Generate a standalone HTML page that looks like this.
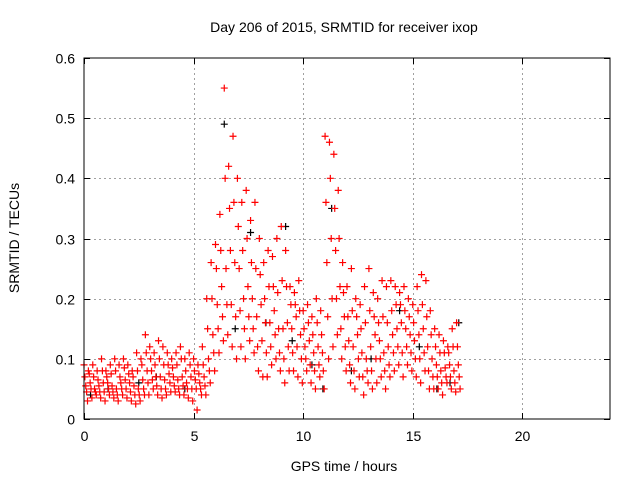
<!DOCTYPE html>
<html><head><meta charset="utf-8"><style>
html,body{margin:0;padding:0;background:#fff;}
svg{display:block;font-family:"Liberation Sans",sans-serif;}
</style></head><body>
<svg id="chart" width="640" height="480" viewBox="0 0 640 480" xmlns="http://www.w3.org/2000/svg">
<rect width="640" height="480" fill="#fff"/>
<text x="344" y="32" font-size="14" text-anchor="middle" fill="#000">Day 206 of 2015, SRMTID for receiver ixop</text>
<text transform="translate(19,238) rotate(-90)" font-size="14" text-anchor="middle" fill="#000">SRMTID / TECUs</text>
<text x="344" y="471" font-size="14" text-anchor="middle" fill="#000">GPS time / hours</text>
<g id="grid"></g>
<g id="ticks"></g>
<g id="marks"></g>
<rect x="84" y="58" width="526" height="361" fill="none" stroke="#000" stroke-width="1"/>
</svg>
<script>
const xTicks = [0, 5, 10, 15, 20];
const yTicks = [0, 0.1, 0.2, 0.3, 0.4, 0.5, 0.6];
const yTickLabels = ["0", "0.1", "0.2", "0.3", "0.4", "0.5", "0.6"];
const hours = [0,0.2,0.4,0.6,0.8,1.0,1.2,1.4,1.6,1.8,2.0,2.2,2.4,2.6,2.8,3.0,3.2,3.4,3.6,3.8,4.0,4.2,4.4,4.6,4.8,5.0,5.2,5.4,5.6,5.8,6.0,6.2,6.4,6.6,6.8,7.0,7.2,7.4,7.6,7.8,8.0,8.2,8.4,8.6,8.8,9.0,9.2,9.4,9.6,9.8,10.0,10.2,10.4,10.6,10.8,11.0,11.2,11.4,11.6,11.8,12.0,12.2,12.4,12.6,12.8,13.0,13.2,13.4,13.6,13.8,14.0,14.2,14.4,14.6,14.8,15.0,15.2,15.4,15.6,15.8,16.0,16.2,16.4,16.6,16.8,17.0];
const hiVals = [.09,.08,.09,.08,.10, .08,.09,.10,.09,.10, .09,.08,.11,.10,.14, .12,.11,.13,.12,.11, .10,.11,.12,.10,.11, .10,.09,.12,.20,.26, .29,.34,.55,.42,.47, .40,.36,.38,.33,.36, .30,.26,.28,.27,.30, .32,.28,.22,.21,.23, .18,.19,.17,.20,.18, .47,.46,.44,.38,.26, .22,.25,.20,.19,.22, .25,.21,.20,.23,.22, .23,.22,.21,.22,.20, .19,.22,.24,.23,.18, .15,.14,.13,.12,.15, .16];
const upVals = [.07,.075,.07,.065,.08, .07,.075,.08,.07,.085, .075,.07,.08,.09,.11, .10,.09,.10,.09,.09, .085,.09,.10,.08,.09, .08,.075,.09,.15,.20, .25,.28,.40,.35,.36, .32,.28,.30,.26,.25, .24,.20,.22,.22,.21, .23,.22,.19,.19,.18, .15,.16,.14,.16,.14, .36,.40,.35,.30,.21, .17,.18,.17,.15,.16, .18,.17,.16,.17,.16, .18,.19,.19,.18,.17, .16,.18,.19,.17,.14, .12,.11,.11,.11,.12, .12];
const midVals = [.055,.06,.05,.055,.06, .06,.055,.05,.06,.065, .06,.055,.05,.065,.08, .08,.07,.07,.065,.075, .07,.065,.07,.06,.07, .065,.06,.07,.10,.14, .19,.22,.25,.28,.26, .25,.20,.22,.20,.17, .19,.16,.16,.18,.15, .15,.16,.15,.17,.14, .12,.13,.11,.12,.11, .26,.30,.28,.22,.17, .13,.12,.14,.11,.10, .12,.14,.13,.11,.12, .14,.15,.16,.15,.14, .13,.14,.15,.12,.10, .09,.08,.085,.09,.08, .09];
const dnVals = [.045,.05,.045,.045,.045, .05,.045,.04,.05,.05, .045,.04,.04,.05,.06, .065,.055,.05,.05,.06, .055,.05,.055,.05,.05, .05,.05,.055,.08,.11, .15,.17,.19,.19,.17, .18,.15,.17,.15,.12, .13,.11,.12,.14,.11, .10,.12,.11,.12,.10, .10,.09,.08,.09,.08, .17,.20,.20,.15,.12, .09,.08,.10,.07,.08, .08,.10,.10,.08,.09, .11,.12,.11,.12,.11, .10,.10,.11,.08,.07, .07,.06,.07,.07,.06, .07];
const loVals = [.03,.035,.04,.035,.03, .04,.035,.03,.04,.035, .03,.025,.03,.04,.04, .05,.04,.035,.04,.045, .045,.04,.04,.035,.03, .015,.04,.04,.06,.08, .11,.13,.14,.12,.10, .12,.10,.13,.11,.08, .07,.07,.09,.10,.08, .06,.08,.08,.07,.06, .08,.06,.05,.07,.05, .10,.12,.14,.10,.08, .06,.05,.07,.04,.06, .05,.06,.07,.05,.07, .08,.09,.07,.09,.08, .07,.06,.08,.05,.05, .05,.04,.06,.05,.045, .05];
const blackHours = [0.3,1.1,2.5,3.3,4.6,6.4,6.9,7.6,8.3,9.2,9.5,10.4,10.9,11.3,12.2,13.1,14.4,15.3,16.1,16.7,17.1];
const blackVals = [.04,.05,.06,.07,.05,.49,.15,.31,.16,.32,.13,.09,.05,.35,.08,.10,.18,.12,.05,.06,.16];
const NS='http://www.w3.org/2000/svg';
const X0=84,X1=610,Y0=419,Y1=58;
function xs(h){return X0+(h/24)*(X1-X0);}
function ys(v){return Y0-(v/0.6)*(Y0-Y1);}
const grid=document.getElementById('grid'),ticks=document.getElementById('ticks'),marks=document.getElementById('marks');
function line(g,x1,y1,x2,y2,st,dash){const l=document.createElementNS(NS,'line');l.setAttribute('x1',x1);l.setAttribute('y1',y1);l.setAttribute('x2',x2);l.setAttribute('y2',y2);l.setAttribute('stroke',st);l.setAttribute('stroke-width',1);if(dash)l.setAttribute('stroke-dasharray',dash);g.appendChild(l);return l;}
function txt(g,x,y,s,anchor){const t=document.createElementNS(NS,'text');t.setAttribute('x',x);t.setAttribute('y',y);t.setAttribute('font-size',14);t.setAttribute('text-anchor',anchor);t.textContent=s;g.appendChild(t);return t;}
yTicks.forEach((v,i)=>{const y=Math.round(ys(v))+0.5;
 if(v>0&&v<0.6){const gl=line(grid,X0,y,X1,y,'#a0a0a0','2,3');}
 line(ticks,X0,y,X0+6,y,'#000');line(ticks,X1-6,y,X1,y,'#000');
 const t=txt(ticks,X0-9,y+5,yTickLabels[i],'end');
 
 
});
xTicks.forEach(h=>{const x=Math.round(xs(h))+0.5;
 if(h>0){const gl=line(grid,x,Y1,x,Y0,'#a0a0a0','2,3');}
 line(ticks,x,Y0,x,Y0-6,'#000');line(ticks,x,Y1,x,Y1+6,'#000');
 const t=txt(ticks,x,Y0+22,String(h),'middle');
 
 
});
function plus(h,v,col,name){const x=xs(h),y=ys(v);const p=document.createElementNS(NS,'path');
 p.setAttribute('d','M'+(x-3.5)+' '+y+'H'+(x+3.5)+'M'+x+' '+(y-3.5)+'V'+(y+3.5));
 p.setAttribute('stroke',col);p.setAttribute('stroke-width',1.2);p.setAttribute('fill','none');
 
 
 marks.appendChild(p);}
blackHours.forEach((h,i)=>plus(h,blackVals[i],'#000','black-point'));
hours.forEach((h,i)=>{
 plus(h,hiVals[i],'#f00','point-high');
 plus(h+0.04,upVals[i],'#f00','point-upper');
 plus(h+0.08,midVals[i],'#f00','point-mid');
 plus(h+0.12,dnVals[i],'#f00','point-lower');
 plus(h+0.16,loVals[i],'#f00','point-low');
});
</script>
</body></html>
